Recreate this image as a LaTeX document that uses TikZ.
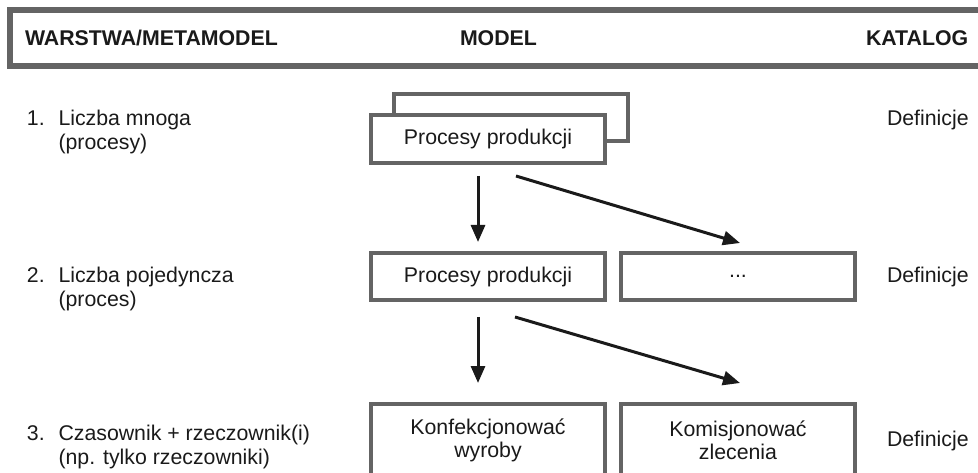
\documentclass[tikz,border=0pt]{standalone}
\usepackage{fontspec}
\setmainfont{Liberation Sans}
\usetikzlibrary{arrows.meta,calc}
\definecolor{frame}{HTML}{646464}
\definecolor{ink}{HTML}{1A1A1A}
\begin{document}
\begin{tikzpicture}[x=1pt,y=-1pt,
  txt/.style={inner sep=0pt, outer sep=0pt, text=ink, font=\fontsize{21.3}{23}\selectfont},
  hdr/.style={txt, font=\fontsize{21.3}{23}\selectfont\bfseries, anchor=base west},
  lbl/.style={txt, anchor=base west},
  box/.style={txt, draw=frame, line width=4pt, fill=white, rectangle,
    minimum width=234pt, minimum height=47pt, anchor=north west, align=center},
  arr/.style={draw=ink, line width=3pt, -{Triangle[length=17pt,width=14pt]}}]
\useasboundingbox (0,0) rectangle (978,473);
\clip (0,0) rectangle (978,473);

% header band
\node[draw=frame, line width=6pt, minimum width=1000pt, minimum height=56pt,
      anchor=north west, inner sep=0pt, outer sep=0pt] (header) at (10,10) {};
\node[hdr] (hlayer) at (25,46) {WARSTWA/METAMODEL};
\node[hdr] (hmodel) at (460,46) {MODEL};
\node[hdr] (hcat)   at (866,46) {KATALOG};

% layer descriptions
\node[lbl] (n1)  at (27,126)   {1.};
\node[lbl] (l1a) at (58.5,126) {Liczba mnoga};
\node[lbl] (l1b) at (58.5,150) {(procesy)};
\node[lbl] (n2)  at (27,283)   {2.};
\node[lbl] (l2a) at (58.5,283) {Liczba pojedyncza};
\node[lbl] (l2b) at (58.5,307) {(proces)};
\node[lbl] (n3)  at (27,440)   {3.};
\node[lbl] (l3a) at (58.5,440) {Czasownik + rzeczownik(i)};
\node[lbl] (l3b) at (58.5,464) {(np. tylko rzeczowniki)};

% catalogue column
\node[lbl] (d1) at (887,126) {Definicje};
\node[lbl] (d2) at (887,283) {Definicje};
\node[lbl] (d3) at (887,446) {Definicje};

% model boxes
\node[box] (p1back) at (394,94) {};
\node[box, minimum height=48pt] (p1) at (371,115) {Procesy produkcji};
\node[box] (p2)   at (371,253) {Procesy produkcji};
\node[box] (dots) at (621,253) {...};
\node[box, minimum height=72pt] (k1) at (371,404) {Konfekcjonować\\wyroby};
\node[box, minimum height=72pt] (k2) at (621,404) {Komisjonować\\zlecenia};

% refinement arrows
\draw[arr] ([xshift=-10pt,yshift=-13pt]p1.south) -- ([xshift=-10pt,yshift=11pt]p2.north);
\draw[arr] ([xshift=28pt,yshift=-13pt]p1.south) -- ([xshift=2pt,yshift=10pt]dots.north);
\draw[arr] ([xshift=-10pt,yshift=-17pt]p2.south) -- ([xshift=-10pt,yshift=21pt]k1.north);
\draw[arr] ([xshift=27pt,yshift=-17pt]p2.south) -- ([xshift=2pt,yshift=21pt]k2.north);
\end{tikzpicture}
\end{document}
